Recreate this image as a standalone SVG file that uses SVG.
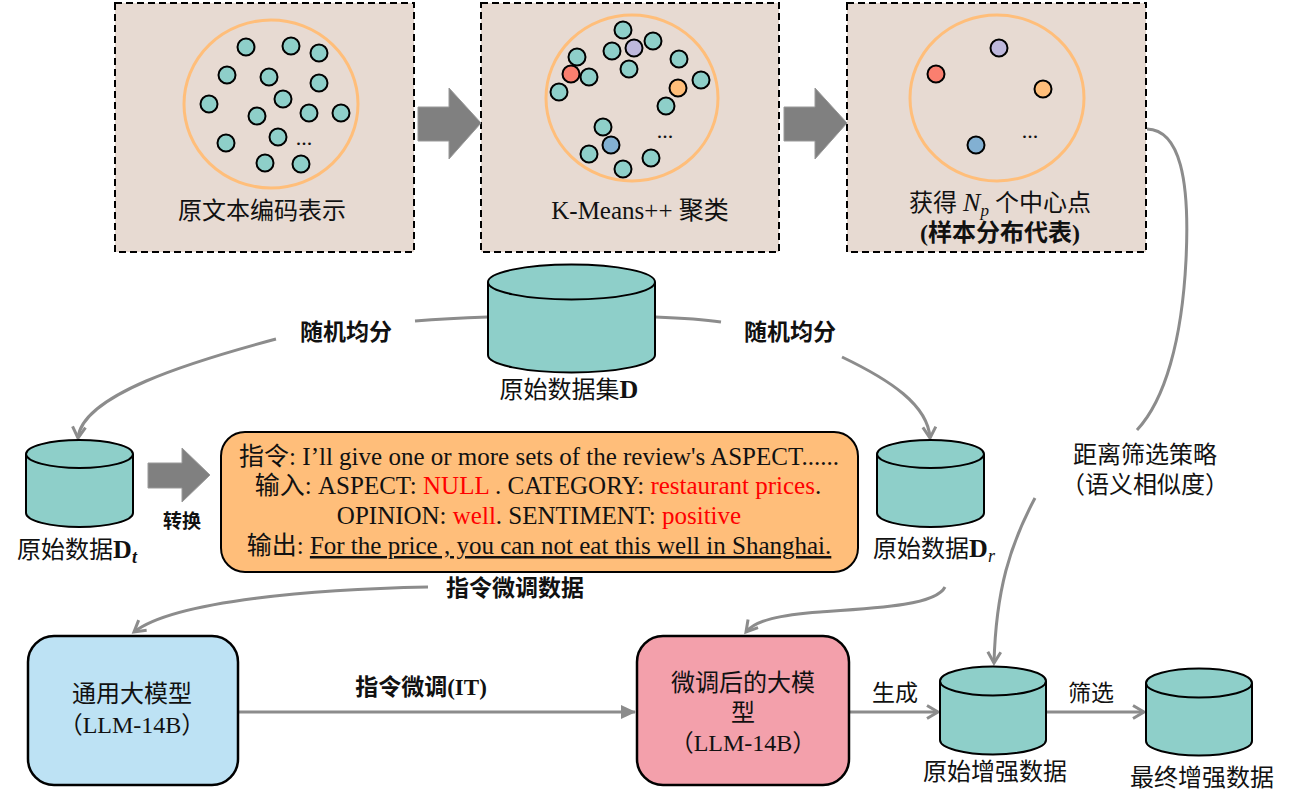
<svg xmlns="http://www.w3.org/2000/svg" width="1303" height="800" viewBox="0 0 1303 800">
<style>
text{font-family:"Liberation Serif","Noto Sans CJK SC",serif;fill:#111;}
.lab{font-size:23px;text-anchor:middle;}
.b{font-weight:bold;}
.panel{fill:#E7DAD2;stroke:#000;stroke-width:2;stroke-dasharray:7,4;}
.ring{fill:none;stroke:#FFBE7A;stroke-width:3;}
.dot{stroke:#000;stroke-width:2;}
.g{fill:#8ECFC9;}.r{fill:#FA7F6F;}.p{fill:#BEB8DC;}.o{fill:#FFBE7A;}.bl{fill:#82B0D2;}
.cyl{fill:#8ECFC9;stroke:#000;stroke-width:2;}
.conn{fill:none;stroke:#8C8C8C;stroke-width:3;}
.blk{fill:#808080;stroke:#999;stroke-width:1;}
.red{fill:#FF0000;}
.dots{font-size:22px;text-anchor:middle;}
.ins{font-size:25px;text-anchor:middle;}
</style>
<defs>
<marker id="v" markerUnits="userSpaceOnUse" markerWidth="16" markerHeight="16" refX="13" refY="8" orient="auto">
<path d="M2,1.5 L13,8 L2,14.5" fill="none" stroke="#8C8C8C" stroke-width="3"/>
</marker>
<marker id="tri" markerUnits="userSpaceOnUse" markerWidth="16" markerHeight="16" refX="14" refY="8" orient="auto">
<path d="M0,1 L15,8 L0,15 Z" fill="#8C8C8C"/>
</marker>
</defs>

<g id="panel-encode">
<rect class="panel" x="115" y="3" width="299" height="249"/>
<ellipse class="ring" cx="271" cy="104" rx="87" ry="84"/>
<g class="dot g">
<circle cx="246" cy="47" r="8.5"/><circle cx="291" cy="46" r="8.5"/><circle cx="319" cy="53" r="8.5"/>
<circle cx="227" cy="75" r="8.5"/><circle cx="269" cy="77" r="8.5"/><circle cx="319" cy="83" r="8.5"/>
<circle cx="209" cy="104" r="8.5"/><circle cx="283" cy="99" r="8.5"/><circle cx="257" cy="116" r="8.5"/>
<circle cx="309" cy="113" r="8.5"/><circle cx="341" cy="113" r="8.5"/><circle cx="226" cy="143" r="8.5"/>
<circle cx="278" cy="137" r="8.5"/><circle cx="265" cy="163" r="8.5"/><circle cx="301" cy="164" r="8.5"/>
</g>
<text class="dots" x="304" y="145">...</text>
<text class="lab" x="262" y="219" style="font-size:24px">原文本编码表示</text>
</g>

<g id="panel-kmeans">
<rect class="panel" x="481" y="3" width="298" height="249"/>
<ellipse class="ring" cx="632" cy="98" rx="86" ry="83"/>
<g class="dot">
<circle class="g" cx="623" cy="30" r="8.5"/><circle class="g" cx="653" cy="41" r="8.5"/><circle class="g" cx="612" cy="51" r="8.5"/>
<circle class="p" cx="634" cy="48" r="8.5"/>
<circle class="g" cx="577" cy="57" r="8.5"/><circle class="g" cx="589" cy="77" r="8.5"/>
<circle class="r" cx="571" cy="74" r="8.5"/>
<circle class="g" cx="629" cy="69" r="8.5"/><circle class="g" cx="559" cy="92" r="8.5"/>
<circle class="g" cx="679" cy="59" r="8.5"/><circle class="g" cx="701" cy="80" r="8.5"/>
<circle class="g" cx="666" cy="106" r="8.5"/>
<circle class="o" cx="678" cy="88" r="8.5"/>
<circle class="g" cx="603" cy="127" r="8.5"/><circle class="g" cx="589" cy="154" r="8.5"/>
<circle class="bl" cx="611" cy="145" r="8.5"/>
<circle class="g" cx="623" cy="169" r="8.5"/><circle class="g" cx="651" cy="158" r="8.5"/>
</g>
<text class="dots" x="665" y="138">...</text>
<text class="lab" x="640" y="219" style="font-size:25px">K-Means++ 聚类</text>
</g>

<g id="panel-centers">
<rect class="panel" x="847" y="3" width="299" height="249"/>
<ellipse class="ring" cx="997" cy="98" rx="87" ry="83"/>
<g class="dot">
<circle class="p" cx="999" cy="48" r="8.5"/>
<circle class="r" cx="936" cy="74" r="8.5"/>
<circle class="o" cx="1043" cy="89" r="8.5"/>
<circle class="bl" cx="976" cy="145" r="8.5"/>
</g>
<text class="dots" x="1030" y="138">...</text>
<text class="lab" x="1000" y="211" style="font-size:24px">获得 <tspan font-style="italic" font-size="26">N</tspan><tspan font-style="italic" font-size="17" dy="5">p</tspan><tspan dy="-5"> 个中心点</tspan></text>
<text class="lab b" x="1000" y="241" style="font-size:24px">(样本分布代表)</text>
</g>

<g id="block-arrows">
<polygon class="blk" points="418,107 449,107 449,88 481,123 449,159 449,141 418,141"/>
<polygon class="blk" points="784,107 815,107 815,88 847,123 815,159 815,141 784,141"/>
<polygon class="blk" points="148,463 182,463 182,448 210,475 182,502 182,488 148,488"/>
</g>

<g id="connectors">
<path class="conn" d="M488,317 C460,318 440,319 415,321 M276,339 C190,362 82,395 78,438" marker-end="url(#v)"/>
<path class="conn" d="M655,317 C680,318 700,319 721,322 M842,357 C890,380 928,405 930,438" marker-end="url(#v)"/>
<path class="conn" d="M1147,129 C1180,130 1190,180 1186,260 C1182,340 1165,400 1137,430 M1035,498 C1010,545 996,590 994,663" marker-end="url(#v)"/>
<path class="conn" d="M428,587 C320,589 175,600 134,632" marker-end="url(#v)"/>
<path class="conn" d="M945,587 C936,605 880,608 820,612 C780,615 756,620 746,632" marker-end="url(#v)"/>
<path class="conn" d="M239,712 L635,712" marker-end="url(#tri)"/>
<path class="conn" d="M850,712 L938,712" marker-end="url(#v)"/>
<path class="conn" d="M1046,712 L1144,712" marker-end="url(#v)"/>
</g>

<g id="dataset-D">
<path class="cyl" d="M488,282 L488,355 A83.5,17.5 0 0 0 655,355 L655,282"/>
<ellipse class="cyl" cx="571.5" cy="282" rx="83.5" ry="17.5"/>
<text class="lab" x="569" y="398" style="font-size:24px">原始数据集<tspan class="b" font-size="26">D</tspan></text>
</g>

<g id="dataset-Dt">
<path class="cyl" d="M26,454 L26,513 A53.5,14 0 0 0 133,513 L133,454"/>
<ellipse class="cyl" cx="79.5" cy="454" rx="53.5" ry="14"/>
<text class="lab" x="77" y="558" style="font-size:24px">原始数据<tspan class="b" font-size="26">D</tspan><tspan font-style="italic" font-weight="bold" font-size="18" dy="5">t</tspan></text>
</g>

<g id="dataset-Dr">
<path class="cyl" d="M877,454 L877,513 A53.5,14 0 0 0 984,513 L984,454"/>
<ellipse class="cyl" cx="930.5" cy="454" rx="53.5" ry="14"/>
<text class="lab" x="934" y="557" style="font-size:24px">原始数据<tspan class="b" font-size="26">D</tspan><tspan font-style="italic" font-size="18" dy="5">r</tspan></text>
</g>

<g id="instruction-box">
<rect x="221" y="432" width="637" height="140" rx="24" fill="#FFBE7A" stroke="#000" stroke-width="2"/>
<text class="ins" x="539" y="465">指令: I’ll give one or more sets of the review's ASPECT......</text>
<text class="ins" x="538" y="494">输入: ASPECT: <tspan class="red">NULL</tspan> . CATEGORY: <tspan class="red">restaurant prices</tspan>.</text>
<text class="ins" x="539" y="524">OPINION: <tspan class="red">well</tspan>. SENTIMENT: <tspan class="red">positive</tspan></text>
<text class="ins" x="539" y="554">输出: <tspan text-decoration="underline">For the price , you can not eat this well in Shanghai.</tspan></text>
</g>

<g id="llm-general">
<rect x="28" y="636" width="210" height="149" rx="26" fill="#BDE2F4" stroke="#000" stroke-width="2.5"/>
<text class="lab" x="132" y="702" style="font-size:24px">通用大模型</text>
<text class="lab" x="132" y="733" style="font-size:24px">（LLM-14B）</text>
</g>

<g id="llm-tuned">
<rect x="637" y="636" width="212" height="149" rx="26" fill="#F3A0AB" stroke="#000" stroke-width="2.5"/>
<text class="lab" x="743" y="691" style="font-size:24px">微调后的大模</text>
<text class="lab" x="743" y="721" style="font-size:24px">型</text>
<text class="lab" x="743" y="751" style="font-size:24px">（LLM-14B）</text>
</g>

<g id="aug-raw">
<path class="cyl" d="M940,681 L940,740 A53,14.5 0 0 0 1046,740 L1046,681"/>
<ellipse class="cyl" cx="993" cy="681" rx="53" ry="14.5"/>
<text class="lab" x="995" y="780" style="font-size:24px">原始增强数据</text>
</g>

<g id="aug-final">
<path class="cyl" d="M1146,683 L1146,741 A53,14.5 0 0 0 1252,741 L1252,683"/>
<ellipse class="cyl" cx="1199" cy="683" rx="53" ry="14.5"/>
<text class="lab" x="1202" y="786" style="font-size:24px">最终增强数据</text>
</g>

<g id="labels">
<text class="lab b" x="346" y="340">随机均分</text>
<text class="lab b" x="790" y="340">随机均分</text>
<text class="lab b" x="182" y="528" style="font-size:19px">转换</text>
<text class="lab b" x="515" y="596">指令微调数据</text>
<text class="lab" x="1145" y="463" style="font-size:24px">距离筛选策略</text>
<text class="lab" x="1145" y="493" style="font-size:24px">（语义相似度）</text>
<text class="lab b" x="421" y="695">指令微调(IT)</text>
<text class="lab" x="895" y="701">生成</text>
<text class="lab" x="1091" y="701">筛选</text>
</g>
</svg>
